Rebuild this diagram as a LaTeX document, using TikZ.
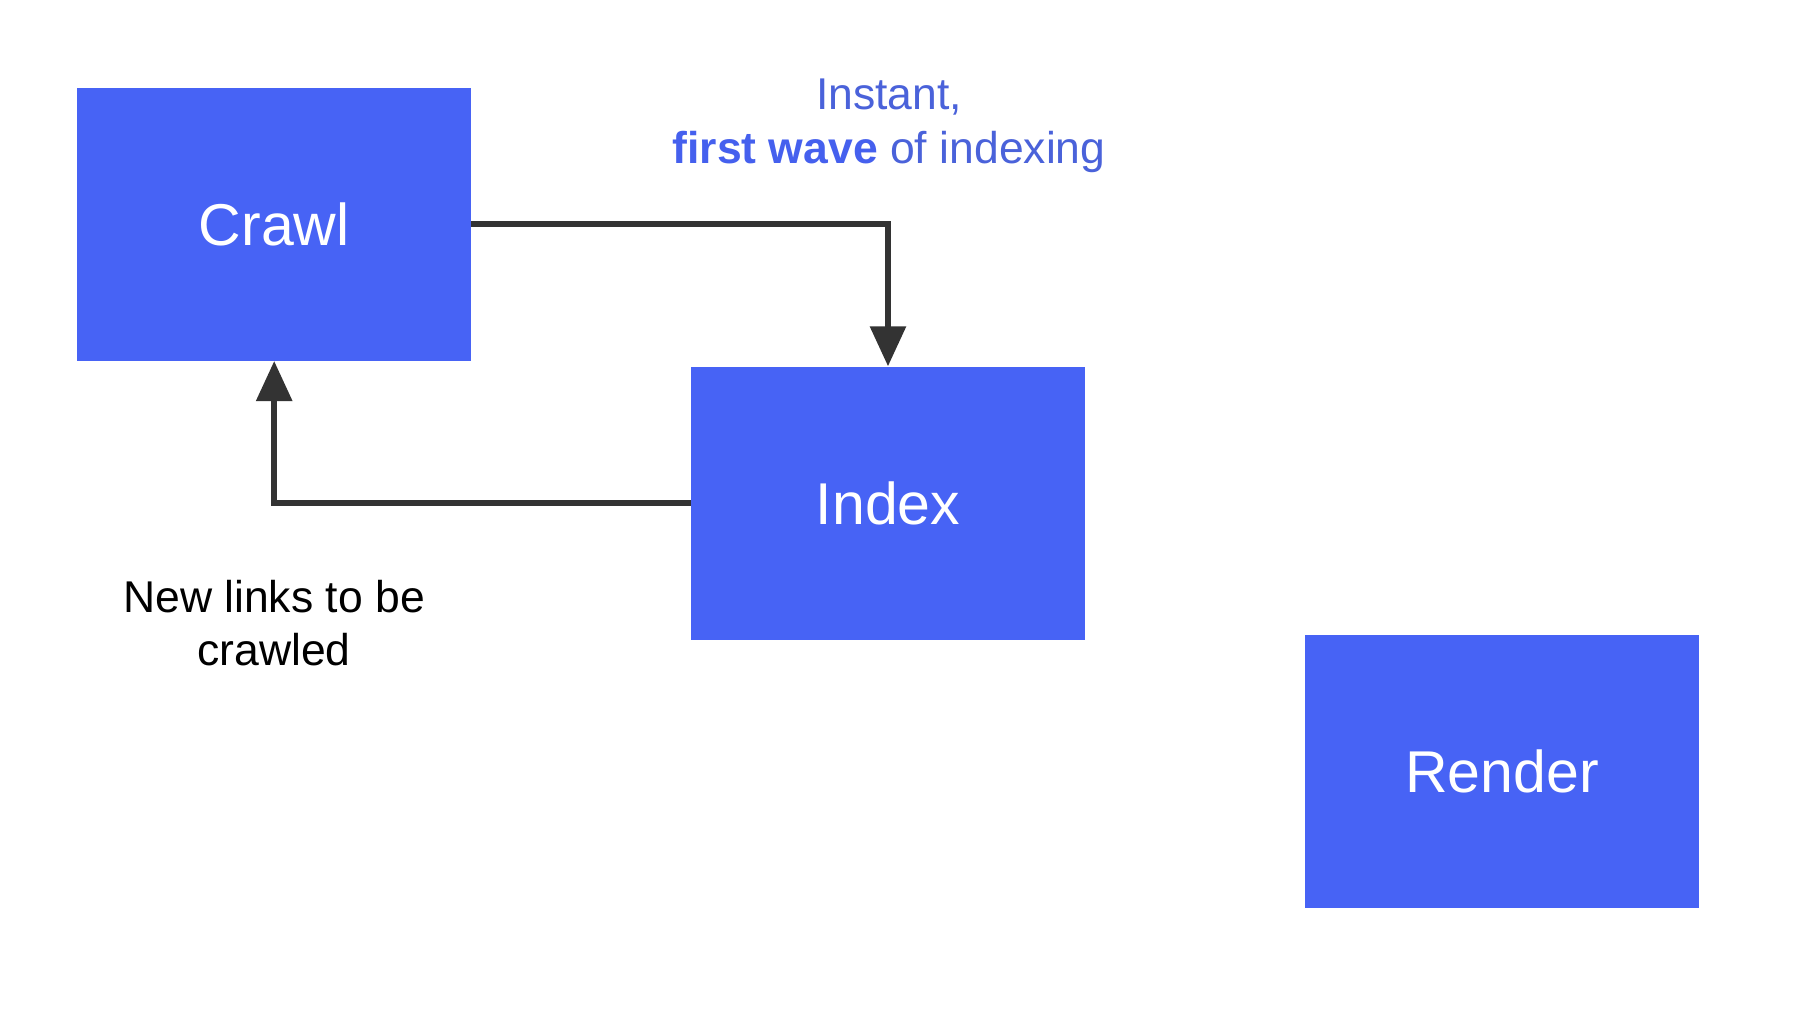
\documentclass[tikz,border=0pt]{standalone}
\usepackage{fontspec}
\setmainfont{Liberation Sans}
\usetikzlibrary{arrows.meta}
\definecolor{boxblue}{HTML}{4763F5}
\definecolor{txtblue}{HTML}{4A62DA}
\definecolor{boldblue}{HTML}{4560EE}
\definecolor{arrowgray}{HTML}{333333}
\begin{document}
\begin{tikzpicture}[x=1pt,y=-1pt,
  stagebox/.style={fill=boxblue,draw=none,minimum width=394pt,minimum height=273pt,inner sep=0pt,text=white,font=\fontsize{59}{70}\selectfont},
  flow/.style={draw=arrowgray,line width=6pt,-{Triangle[length=40pt,width=35pt]}},
  lbl/.style={anchor=base,inner sep=0pt,font=\fontsize{44.5}{54}\selectfont}]
\useasboundingbox (0,0) rectangle (1813,1020);
\fill[white] (0,0) rectangle (1813,1020);
\node[stagebox] (crawl) at (274.2,224.3) {Crawl};
\node[stagebox] (index) at (888,503) {Index};
\node[stagebox] (render) at (1502,771) {Render};
\node[lbl,text=txtblue] (t1) at (889,109) {Instant,};
\node[lbl,text=txtblue] (t2) at (889,163) {\textcolor{boldblue}{\textbf{first wave}} of indexing};
\node[lbl,text=black] (n1) at (274,612) {New links to be};
\node[lbl,text=black] (n2) at (274,665) {crawled};
\draw[flow] (crawl.east) -| (index.north);
\draw[flow] (index.west) -| (crawl.south);
\end{tikzpicture}
\end{document}
